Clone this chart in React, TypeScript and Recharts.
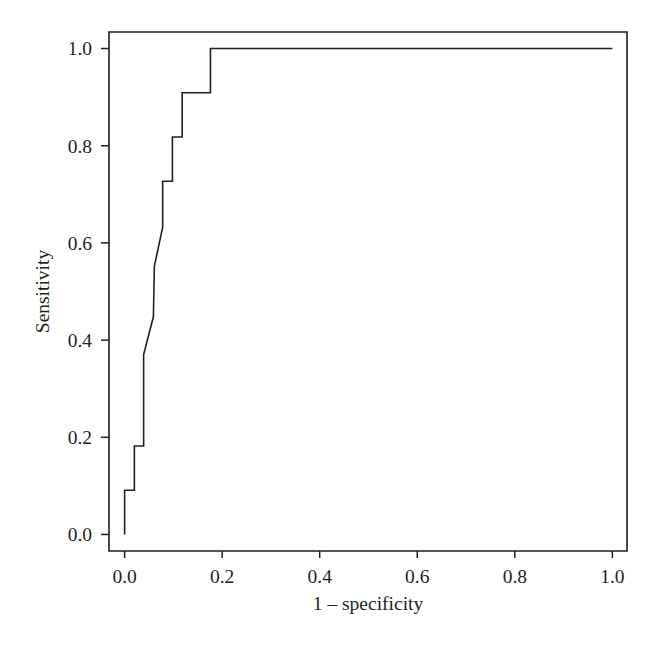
import {
  LineChart,
  Line,
  XAxis,
  YAxis,
  ReferenceArea,
} from "recharts";

// ROC curve
const fpr = [0, 0, 0.02, 0.02, 0.039, 0.039, 0.059, 0.061, 0.078, 0.078, 0.098, 0.098, 0.118, 0.118, 0.176, 0.176, 1.0];
const sensitivity = [0, 0.091, 0.091, 0.182, 0.182, 0.37, 0.448, 0.552, 0.632, 0.727, 0.727, 0.818, 0.818, 0.909, 0.909, 1.0, 1.0];
const ticks = [0, 0.2, 0.4, 0.6, 0.8, 1.0];

const ink = "#231f20";
const font = "'Liberation Serif', 'Times New Roman', serif";

const rocData = fpr.map((x, i) => ({ x, y: sensitivity[i] }));

const App = () => {
  return (
    <div style={{ width: 644, height: 631 }}>
      <LineChart
        width={644}
        height={631}
        data={rocData}
        margin={{ top: 24, right: 25, left: 0, bottom: 28 }}
      >
        <XAxis
          dataKey="x"
          type="number"
          domain={[-0.032, 1.03]}
          ticks={ticks}
          tickFormatter={(v: number) => v.toFixed(1)}
          axisLine={false}
          tickLine={{ stroke: ink, strokeWidth: 1.5 }}
          tickSize={7}
          tickMargin={11}
          height={60}
          allowDataOverflow
          tick={{ fill: ink, fontSize: 19.5, fontFamily: font }}
          label={{
            value: "1 – specificity",
            position: "insideBottom",
            offset: 1,
            style: { fill: ink, fontSize: 19.5, fontFamily: font },
          }}
        />
        <YAxis
          dataKey="y"
          type="number"
          domain={[-0.034, 1.034]}
          ticks={ticks}
          tickFormatter={(v: number) => v.toFixed(1)}
          axisLine={false}
          tickLine={{ stroke: ink, strokeWidth: 1.5 }}
          tickSize={8}
          tickMargin={9}
          width={101}
          allowDataOverflow
          tick={{ fill: ink, fontSize: 19.5, fontFamily: font }}
          label={{
            value: "Sensitivity",
            angle: -90,
            position: "insideLeft",
            offset: 34,
            style: { textAnchor: "middle", fill: ink, fontSize: 19.5, fontFamily: font },
          }}
        />
        <ReferenceArea
          x1={-0.032}
          x2={1.03}
          y1={-0.034}
          y2={1.034}
          fill="none"
          fillOpacity={0}
          stroke={ink}
          strokeWidth={1.6}
          ifOverflow="visible"
        />
        <Line
          type="linear"
          dataKey="y"
          stroke={ink}
          strokeWidth={1.6}
          dot={false}
          isAnimationActive={false}
        />
      </LineChart>
    </div>
  );
};

export default App;
